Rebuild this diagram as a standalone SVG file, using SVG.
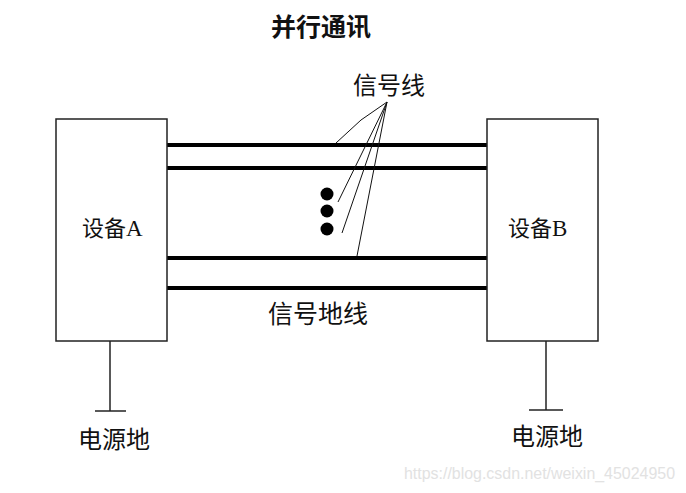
<svg xmlns="http://www.w3.org/2000/svg" width="686" height="493" viewBox="0 0 686 493">
<style>
.box{fill:#fff;stroke:#222;stroke-width:1.5}
.bus{stroke:#000;stroke-width:4}
.thin{stroke:#222;stroke-width:1.5;fill:none}
.lead{stroke:#111;stroke-width:1;fill:none}
.t{font-family:"Noto Sans CJK SC","Liberation Serif",sans-serif;font-size:24px;fill:#111}
.ts{font-family:"Liberation Serif","Noto Sans CJK SC",serif;font-size:23px;fill:#111}
</style>
<rect width="686" height="493" fill="#fff"/>
<text x="321" y="36" text-anchor="middle" class="t" style="font-weight:bold;font-size:25px">并行通讯</text>
<g id="connectors">
<line class="bus" x1="167" y1="145" x2="487" y2="145"/>
<line class="bus" x1="167" y1="168" x2="487" y2="168"/>
<line class="bus" x1="167" y1="258" x2="487" y2="258"/>
<line class="bus" x1="167" y1="288" x2="487" y2="288"/>
<polyline class="lead" points="387,102 361,120 336,143"/>
<line class="lead" x1="387" y1="102" x2="338" y2="202"/>
<line class="lead" x1="387" y1="102" x2="342" y2="233"/>
<line class="lead" x1="387" y1="102" x2="357" y2="256"/>
<line class="thin" x1="110" y1="341" x2="110" y2="411"/>
<line class="thin" x1="95" y1="411" x2="126" y2="411"/>
<line class="thin" x1="546" y1="341" x2="546" y2="410"/>
<line class="thin" x1="529" y1="410" x2="563" y2="410"/>
</g>
<g id="deviceA">
<rect class="box" x="56" y="119" width="111" height="222"/>
<text x="82" y="236" class="ts"><tspan class="t" style="font-size:22px">设备</tspan>A</text>
</g>
<g id="deviceB">
<rect class="box" x="487" y="119" width="111" height="222"/>
<text x="508" y="236" class="ts"><tspan class="t" style="font-size:22px">设备</tspan>B</text>
</g>
<g id="dots">
<circle cx="327" cy="194" r="6.5" fill="#000"/>
<circle cx="327" cy="211" r="6.5" fill="#000"/>
<circle cx="327" cy="229" r="6.5" fill="#000"/>
</g>
<g id="labels">
<text x="353" y="94" class="t">信号线</text>
<text x="268" y="323" class="t" style="font-size:25px">信号地线</text>
<text x="78" y="448" class="t">电源地</text>
<text x="511" y="445" class="t">电源地</text>
</g>
<text x="404" y="479" font-family="Liberation Sans, sans-serif" font-size="16.5" fill="#e2e2e2" textLength="271" lengthAdjust="spacingAndGlyphs">https://blog.csdn.net/weixin_45024950</text>
</svg>
